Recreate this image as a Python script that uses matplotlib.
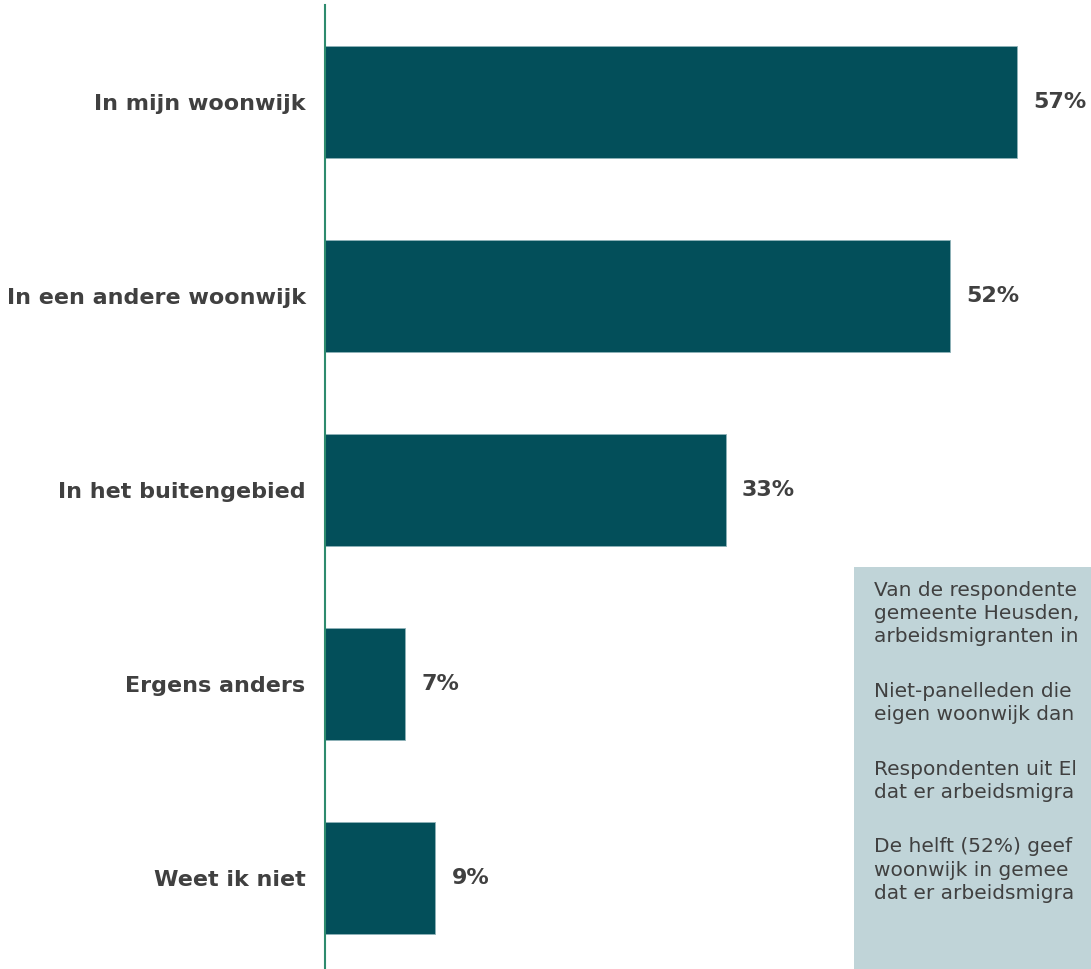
import matplotlib
matplotlib.use("Agg")
import matplotlib.pyplot as plt
from matplotlib.patches import Rectangle

categories = ["In mijn woonwijk", "In een andere woonwijk", "In het buitengebied",
              "Ergens anders", "Weet ik niet"]
values = [57.0, 51.5, 33.0, 6.6, 9.1]
value_labels = ["57%", "52%", "33%", "7%", "9%"]

# Text visible in the (right-cropped) annotation box
paragraphs = [
    ["Van de respondente", "gemeente Heusden,", "arbeidsmigranten in"],
    ["Niet-panelleden die", "eigen woonwijk dan"],
    ["Respondenten uit El", "dat er arbeidsmigra"],
    ["De helft (52%) geef", "woonwijk in gemee", "dat er arbeidsmigra"],
]

W, H = 1091, 969
fig = plt.figure(figsize=(W / 100, H / 100), dpi=100)

ax_left, ax_right = 325, 1091
ax_top, ax_bot = 5, 969
ax = fig.add_axes([ax_left / W, 1 - ax_bot / H, (ax_right - ax_left) / W, (ax_bot - ax_top) / H])

px_per_unit = 12.14
ax.set_xlim(0, (ax_right - ax_left) / px_per_unit)
row = 194.0
ax.set_ylim(-0.5 + (ax_bot - ax_top) / row, -0.5)

bar_color = "#034F5A"
text_color = "#404040"
y = list(range(len(categories)))
ax.barh(y, values, height=112 / row, color=bar_color, edgecolor="#8fb3b8", linewidth=0.6)

for yi, v, lab in zip(y, values, value_labels):
    ax.text(v + 16 / px_per_unit, yi, lab, va="center", ha="left", fontsize=16,
            fontweight="bold", color=text_color, clip_on=False)

ax.set_yticks(y)
ax.set_yticklabels(categories, fontsize=16, fontweight="bold", color=text_color)
ax.tick_params(axis="y", length=0, pad=14)
ax.set_xticks([])
for s in ["top", "right", "bottom"]:
    ax.spines[s].set_visible(False)
ax.spines["left"].set_color("#2E8B6E")
ax.spines["left"].set_linewidth(1.5)

# Text box
box_x0, box_y0 = 854, 567
fig.patches.append(Rectangle((box_x0 / W, 0), (W - box_x0) / W, 1 - box_y0 / H,
                             transform=fig.transFigure, facecolor="#C0D4D8",
                             edgecolor="none", zorder=5))
line_h = 23.3
para_gap = 31.3
ycur = 590
for para in paragraphs:
    for line in para:
        fig.text(874 / W, 1 - ycur / H, line, ha="left", va="center", fontsize=14.5,
                 color=text_color, zorder=6)
        ycur += line_h
    ycur += para_gap

fig.savefig("out.png", dpi=100)
